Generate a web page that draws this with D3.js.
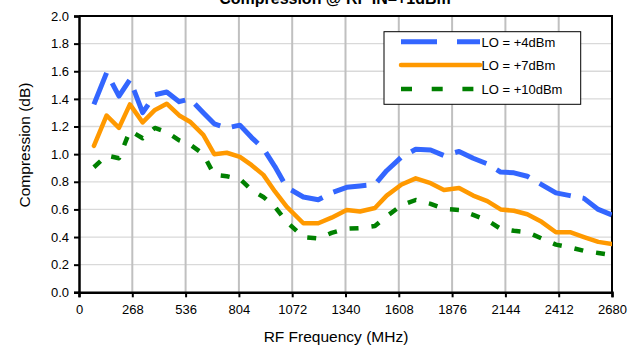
<!DOCTYPE html>
<html>
<head>
<meta charset="utf-8">
<script src="https://cdn.jsdelivr.net/npm/d3@7/dist/d3.min.js"></script>
<style>
  html, body { margin: 0; padding: 0; background: #fff; }
  svg { display: block; font-family: "Liberation Sans", Arial, sans-serif; }
</style>
</head>
<body>
<svg id="chart" width="634" height="349"></svg>
<script>
// Measured compression vs RF frequency for three LO drive levels
const freqMHz = [75, 139, 201, 256, 320, 382, 441, 504, 558, 625, 680, 743, 809, 868, 927, 985,
  1044, 1128, 1203, 1270, 1346, 1413, 1488, 1547, 1622, 1693, 1768, 1835, 1911, 1982, 2053,
  2120, 2187, 2254, 2326, 2398, 2469, 2539, 2611, 2680];

const lo4 = [1.36, 1.59, 1.42, 1.54, 1.30, 1.43, 1.45, 1.38, 1.40, 1.30, 1.22, 1.19, 1.21, 1.12,
  1.04, 0.91, 0.76, 0.69, 0.67, 0.72, 0.76, 0.77, 0.78, 0.88, 0.98, 1.035, 1.03, 0.99, 1.02,
  0.97, 0.93, 0.87, 0.865, 0.84, 0.78, 0.72, 0.70, 0.68, 0.60, 0.56];

const lo7 = [1.06, 1.28, 1.19, 1.36, 1.23, 1.32, 1.365, 1.28, 1.235, 1.14, 1.00, 1.01, 0.98,
  0.92, 0.85, 0.73, 0.62, 0.50, 0.50, 0.54, 0.595, 0.585, 0.61, 0.70, 0.78, 0.825, 0.79, 0.74,
  0.755, 0.70, 0.66, 0.60, 0.59, 0.565, 0.51, 0.435, 0.435, 0.40, 0.365, 0.35];

const lo10 = [0.905, 0.99, 0.97, 1.17, 1.115, 1.19, 1.16, 1.10, 1.07, 1.00, 0.85, 0.84, 0.82,
  0.74, 0.69, 0.62, 0.51, 0.40, 0.39, 0.43, 0.46, 0.465, 0.48, 0.55, 0.63, 0.668, 0.64, 0.605,
  0.596, 0.56, 0.52, 0.46, 0.445, 0.435, 0.39, 0.345, 0.325, 0.30, 0.285, 0.27];

const seriesNames = ["LO = +4dBm", "LO = +7dBm", "LO = +10dBm"];
const xTicks = [0, 268, 536, 804, 1072, 1340, 1608, 1876, 2144, 2412, 2680];
const yTicks = [0, 0.2, 0.4, 0.6, 0.8, 1.0, 1.2, 1.4, 1.6, 1.8, 2.0];

const chartTitle = "Compression @ RF IN=+1dBm";
const xTitle = "RF Frequency (MHz)";
const yTitle = "Compression (dB)";

const styles = [
  { color: "#3366ff", width: 5, dash: "34,12", legendDash: "36,20" },
  { color: "#ff9900", width: 4.5, dash: null, legendDash: null },
  { color: "#008000", width: 4.5, dash: "9,13", legendDash: "11,19.7" }
];

const svg = d3.select("#chart");
const plot = { left: 79, right: 612, top: 16, bottom: 292.3 };

const x = d3.scaleLinear().domain([0, 2680]).range([plot.left, plot.right]);
const y = d3.scaleLinear().domain([0, 2]).range([plot.bottom, plot.top]);

// gridlines
svg.append("g").selectAll("line").data(yTicks.slice(1, -1)).join("line")
  .attr("x1", plot.left).attr("x2", plot.right)
  .attr("y1", d => y(d)).attr("y2", d => y(d))
  .attr("stroke", "#d9d9d9").attr("stroke-width", 1.3);
svg.append("g").selectAll("line").data(xTicks.slice(1, -1)).join("line")
  .attr("x1", d => x(d)).attr("x2", d => x(d))
  .attr("y1", plot.top).attr("y2", plot.bottom)
  .attr("stroke", "#c0c0c0").attr("stroke-width", 2);

// frame (top and right)
svg.append("path")
  .attr("d", `M${plot.left},${plot.top}H${plot.right}V${plot.bottom}`)
  .attr("fill", "none").attr("stroke", "#000").attr("stroke-width", 2);

// data lines
svg.append("clipPath").attr("id", "clip").append("rect")
  .attr("x", plot.left).attr("y", plot.top)
  .attr("width", plot.right - plot.left).attr("height", plot.bottom - plot.top);

const line = d3.line().x(d => x(d[0])).y(d => y(d[1]));
const seriesValues = [lo4, lo7, lo10];
const lines = svg.append("g").attr("clip-path", "url(#clip)");
seriesValues.forEach((vals, i) => {
  const p = lines.append("path")
    .datum(freqMHz.map((f, j) => [f, vals[j]]))
    .attr("d", line)
    .attr("fill", "none")
    .attr("stroke", styles[i].color)
    .attr("stroke-width", styles[i].width)
    .attr("stroke-linejoin", "round");
  if (styles[i].dash) p.attr("stroke-dasharray", styles[i].dash);
  else p.attr("stroke-linecap", "round");
});

// axes
const xAxis = svg.append("g").attr("transform", `translate(0,${plot.bottom})`)
  .call(d3.axisBottom(x).tickValues(xTicks).tickFormat(d3.format("d")).tickSize(5).tickPadding(7));
const yAxis = svg.append("g").attr("transform", `translate(${plot.left},0)`)
  .call(d3.axisLeft(y).tickValues(yTicks).tickFormat(d3.format(".1f")).tickSize(5).tickPadding(5));
[xAxis, yAxis].forEach(a => {
  a.select(".domain").attr("stroke", "#000").attr("stroke-width", 2.5);
  a.selectAll(".tick line").attr("stroke", "#000").attr("stroke-width", 2);
  a.selectAll(".tick text").attr("fill", "#000").attr("font-size", 13)
    .attr("font-family", "Liberation Sans, Arial, sans-serif");
});

// titles
svg.append("text").attr("x", 335).attr("y", 4).attr("text-anchor", "middle")
  .attr("font-size", 16).attr("font-weight", "bold").text(chartTitle);
svg.append("text").attr("x", 336).attr("y", 342)
  .attr("text-anchor", "middle").attr("font-size", 15.5).text(xTitle);
svg.append("text").attr("transform", "translate(30,145) rotate(-90)")
  .attr("text-anchor", "middle").attr("font-size", 15.5).text(yTitle);

// legend
const lg = svg.append("g");
lg.append("rect").attr("x", 384).attr("y", 31.7).attr("width", 196.7).attr("height", 72.6)
  .attr("fill", "#fff").attr("stroke", "#000").attr("stroke-width", 1);
const rowY = [41.7, 65, 89];
seriesNames.forEach((name, i) => {
  const l = lg.append("line").attr("x1", 401).attr("x2", 480)
    .attr("y1", rowY[i]).attr("y2", rowY[i])
    .attr("stroke", styles[i].color).attr("stroke-width", styles[i].width);
  if (styles[i].legendDash) l.attr("stroke-dasharray", styles[i].legendDash);
  else l.attr("stroke-linecap", "round");
  lg.append("text").attr("x", 481.5).attr("y", rowY[i] + 4.8)
    .attr("font-size", 13).text(name);
});
</script>
</body>
</html>
